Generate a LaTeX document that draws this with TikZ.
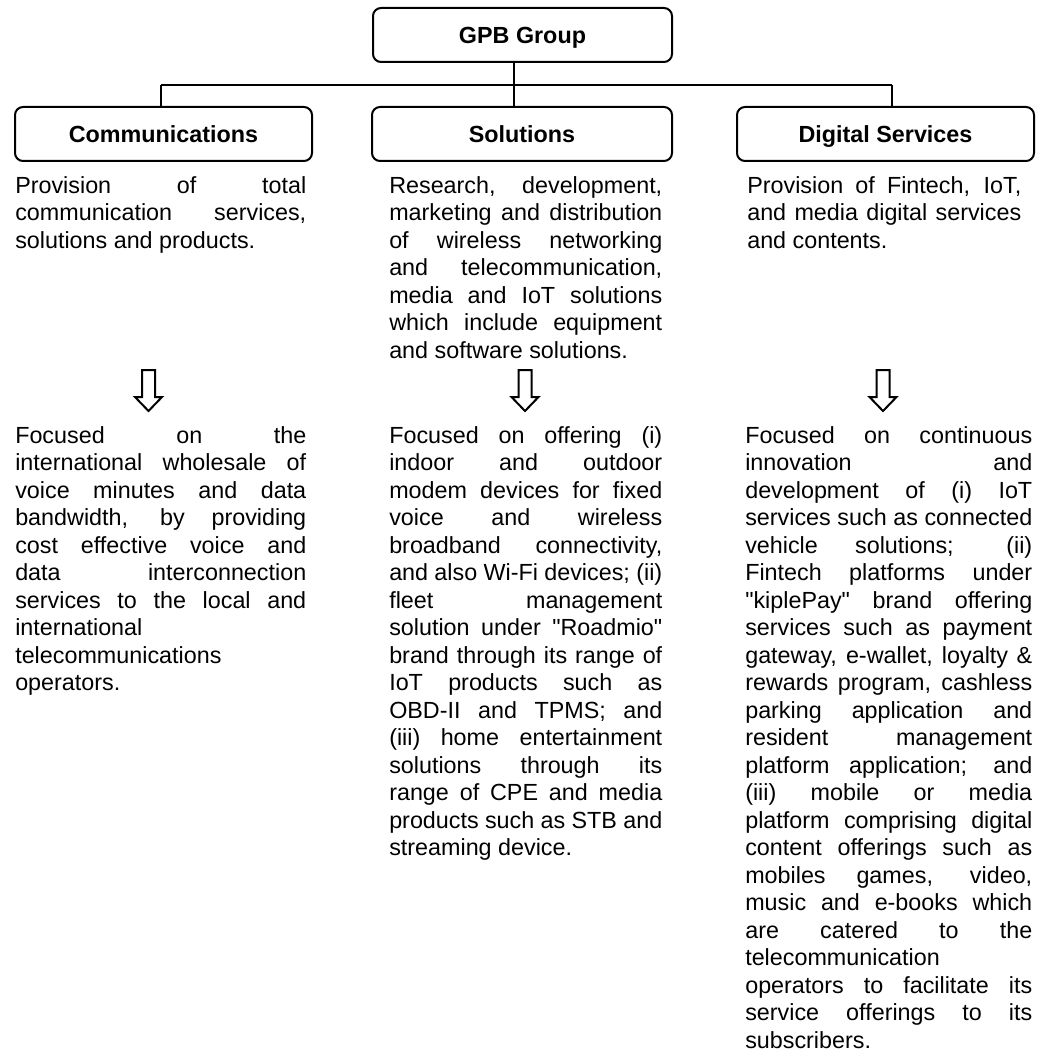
\documentclass[tikz,border=0pt]{standalone}
\usepackage{fontspec}
\setmainfont{Liberation Sans}
\newfontfamily\rawsans{Liberation Sans}[Ligatures=TeXOff]
\newcommand\jline[1]{\hbox to\hsize{#1}}
\newcommand\lline[1]{\hbox to\hsize{#1\hfil}}
\newcommand\para[2]{\vtop{\hsize=#1\baselineskip=20.625pt\relax #2}}
\newcommand\dq{{\rawsans\symbol{34}}}
\tikzset{
  px/.style={x=0.75pt,y=-0.75pt},
  unitbox/.style={draw, line width=1.5pt, rounded corners=6pt, minimum height=40.5pt,
    inner sep=0pt, text height=12.5pt, text depth=0pt,
    font=\fontsize{17.5pt}{20pt}\selectfont\bfseries},
  conn/.style={line width=1.5pt},
  txt/.style={anchor=base west, inner sep=0pt, font=\fontsize{17.5pt}{20.625pt}\selectfont},
  hollowdown/.pic={\draw[line width=1.5pt, line join=miter]
    (-6.5,0) -- (-6.5,27) -- (-13.5,27) -- (0,41) -- (13.5,27) -- (6.5,27) -- (6.5,0) -- cycle;}
}
\begin{document}
\begin{tikzpicture}[px]
\useasboundingbox (0,0) rectangle (1043,1052);
% boxes
\node[unitbox, minimum width=224.25pt] (gpb) at (522.5,35) {GPB Group};
\node[unitbox, minimum width=222.75pt] (comm) at (163.5,134) {Communications};
\node[unitbox, minimum width=225pt] (sol) at (522,134) {Solutions};
\node[unitbox, minimum width=222.75pt] (dig) at (885.5,134) {Digital Services};
% connectors
\coordinate (hl) at (161,85);
\coordinate (hm) at (514,85);
\coordinate (hr) at (892,85);
\draw[conn] (hl) -- (hr);
\draw[conn] (gpb.south -| hm) -- (hm) -- (hm |- sol.north);
\draw[conn] (hl) -- (hl |- comm.north);
\draw[conn] (hr) -- (hr |- dig.north);
% top descriptions
\node[txt] (commtop) at (15,193) {\para{218.25pt}{%
\jline{Provision of total}
\jline{communication services,}
\lline{solutions and products.}}};
\node[txt] (soltop) at (389,193) {\para{204.75pt}{%
\jline{Research, development,}
\jline{marketing and distribution}
\jline{of wireless networking}
\jline{and telecommunication,}
\jline{media and IoT solutions}
\jline{which include equipment}
\lline{and software solutions.}}};
\node[txt] (digtop) at (747,193) {\para{205.5pt}{%
\jline{Provision of Fintech, IoT,}
\jline{and media digital services}
\lline{and contents.}}};
% arrows
\pic at (148.5,370) {hollowdown};
\pic at (525,370) {hollowdown};
\pic at (883,370) {hollowdown};
% bottom descriptions
\node[txt] (commbot) at (15,443) {\para{218.25pt}{%
\jline{Focused on the}
\jline{international wholesale of}
\jline{voice minutes and data}
\jline{bandwidth, by providing}
\jline{cost effective voice and}
\jline{data interconnection}
\jline{services to the local and}
\lline{international}
\lline{telecommunications}
\lline{operators.}}};
\node[txt] (solbot) at (389,443) {\para{204.75pt}{%
\jline{Focused on offering (i)}
\jline{indoor and outdoor}
\jline{modem devices for fixed}
\jline{voice and wireless}
\jline{broadband connectivity,}
\jline{and also Wi-Fi devices; (ii)}
\jline{fleet management}
\jline{solution under \dq Roadmio\dq}
\jline{brand through its range of}
\jline{IoT products such as}
\jline{OBD-II and TPMS; and}
\jline{(iii) home entertainment}
\jline{solutions through its}
\jline{range of CPE and media}
\jline{products such as STB and}
\lline{streaming device.}}};
\node[txt] (digbot) at (745,443) {\para{215.25pt}{%
\jline{Focused on continuous}
\jline{innovation and}
\jline{development of (i) IoT}
\jline{services such as connected}
\jline{vehicle solutions; (ii)}
\jline{Fintech platforms under}
\jline{\dq kiplePay\dq\ brand offering}
\jline{services such as payment}
\jline{gateway, e-wallet, loyalty \&}
\jline{rewards program, cashless}
\jline{parking application and}
\jline{resident management}
\jline{platform application; and}
\jline{(iii) mobile or media}
\jline{platform comprising digital}
\jline{content offerings such as}
\jline{mobiles games, video,}
\jline{music and e-books which}
\jline{are catered to the}
\lline{telecommunication}
\jline{operators to facilitate its}
\jline{service offerings to its}
\lline{subscribers.}}};
\end{tikzpicture}
\end{document}
